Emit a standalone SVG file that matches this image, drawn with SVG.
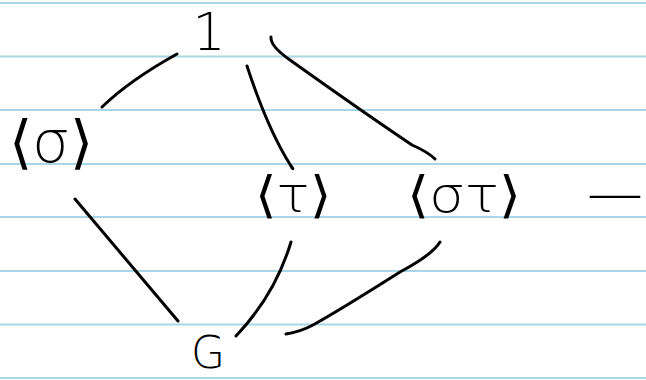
<svg xmlns="http://www.w3.org/2000/svg" width="646" height="380" viewBox="0 0 646 380">
<style>
.rule{stroke:#a9d6e5;stroke-width:2}
.edge{fill:none;stroke:#000;stroke-width:3;stroke-linecap:round;stroke-linejoin:round}
.lbl{font-family:"DejaVu Sans","Liberation Sans",sans-serif;font-weight:200;fill:#000;text-anchor:middle}
</style>
<rect width="646" height="380" fill="#fff"/>
<g id="paper">
<line class="rule" x1="0" y1="3" x2="646" y2="3"/>
<line class="rule" x1="0" y1="56.5" x2="646" y2="56.5"/>
<line class="rule" x1="0" y1="110" x2="646" y2="110"/>
<line class="rule" x1="0" y1="164" x2="646" y2="164"/>
<line class="rule" x1="0" y1="217" x2="646" y2="217"/>
<line class="rule" x1="0" y1="271" x2="646" y2="271"/>
<line class="rule" x1="0" y1="324.5" x2="646" y2="324.5"/>
<line class="rule" x1="0" y1="378" x2="646" y2="378"/>
</g>
<g id="connectors">
<path class="edge" d="M177,54 Q130,80 102,107"/>
<path class="edge" d="M247,66 Q268,130 291,166 Q294,170 292,168"/>
<path class="edge" d="M271,37 Q270,46 290,60 Q360,110 412,145 Q428,152 435,159"/>
<path class="edge" d="M75,199 L178,321"/>
<path class="edge" d="M291,242 Q275,295 236,336"/>
<path class="edge" d="M440,242 Q432,255 400,272 Q340,310 313,325 Q300,332 286,334"/>
</g>
<g id="n1"><text class="lbl" x="209" y="50" font-size="52">1</text></g>
<g id="n-sigma"><text class="lbl" x="51" y="162" font-size="58" textLength="85" lengthAdjust="spacingAndGlyphs">⟨σ⟩</text></g>
<g id="n-tau"><text class="lbl" x="293" y="212" font-size="50" textLength="77" lengthAdjust="spacingAndGlyphs">⟨τ⟩</text></g>
<g id="n-sigmatau"><text class="lbl" x="464" y="212" font-size="50" textLength="115" lengthAdjust="spacingAndGlyphs">⟨στ⟩</text></g>
<g id="n-more"><text class="lbl" x="615" y="212" font-size="56">—</text></g>
<g id="nG"><text class="lbl" x="208" y="368" font-size="44">G</text></g>
</svg>
